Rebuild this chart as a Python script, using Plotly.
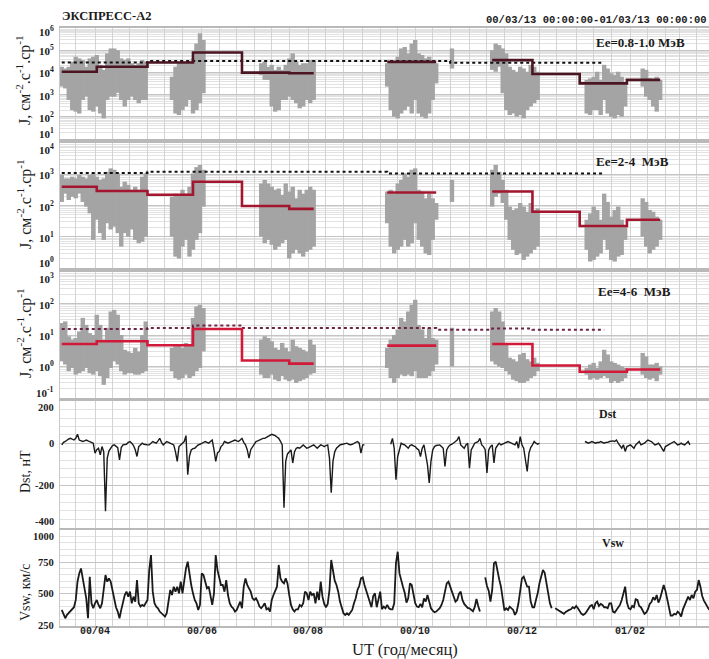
import pandas as pd
import plotly.graph_objects as go
from plotly.subplots import make_subplots

# Time base: day-of-year counted from 2000-01-01 (= day 1); 2001 days continue past 366.
EPOCH = pd.Timestamp("2000-01-01")

# ---------------- electron flux, 2-day bins: lower / upper envelope ----------------
flux_doy = [73, 75, 77, 79, 81, 83, 85, 87, 89, 91, 93, 95, 97, 99, 101, 103, 105, 107, 109, 111, 113, 115, 117, 119, 121,
            136, 138, 140, 142, 144, 146, 148, 150, 152, 154,
            187, 189, 191, 193, 195, 197, 199, 201, 203, 205, 207, 209, 211, 213, 215, 217,
            259, 261, 263, 265, 267, 269, 271, 273, 275, 277, 279, 281, 283, 285, 287,
            296,
            319, 321, 323, 325, 327, 329, 331, 333, 335, 337, 339, 341, 343, 345,
            373, 375, 377, 379, 381, 383, 385, 387, 389, 391, 393, 395,
            405, 407, 409, 411, 413, 415]

# Ee = 0.8-1.0 MeV
e1_hi = [1.8e4, 1.5e4, 1.8e4, 3.0e4, 5.1e4, 4.3e4, 3.6e4, 1.8e4, 4.3e4, 5.1e4, 6.1e4, 2.2e4, 1.3e4, 7.2e4, 1.2e5, 1.2e5, 1.0e5, 4.3e4, 3.6e4, 4.3e4, 2.6e4, 2.2e4, 2.6e4, 3.6e4, 3.0e4,
         6.4e3, 1.8e4, 2.6e4, 3.0e4, 2.6e4, 3.0e4, 4.3e4, 2.0e5, 5.8e5, 2.9e5,
         2.6e4, 3.0e4, 1.8e4, 2.2e4, 1.3e4, 1.8e4, 1.3e4, 2.2e4, 4.3e4, 7.2e4, 3.0e4, 2.2e4, 2.6e4, 2.6e4, 3.6e4, 3.6e4,
         2.6e4, 3.0e4, 3.0e4, 5.1e4, 1.2e5, 1.4e5, 7.2e4, 2.0e5, 2.9e5, 7.2e4, 6.1e4, 4.3e4, 5.1e4, 3.0e4, 2.6e4,
         1.2e5,
         1.0e5, 2.0e5, 1.7e5, 1.2e5, 7.2e4, 1.8e4, 1.3e4, 1.07e4, 1.8e4, 1.5e4, 1.07e4, 2.2e4, 1.8e4, 1.07e4,
         4.6e3, 5.4e3, 6.4e3, 1.07e4, 4.6e3, 2.2e4, 1.5e4, 9.1e3, 7.6e3, 1.07e4, 6.4e3, 3.2e3,
         1.5e4, 1.3e4, 5.4e3, 4.6e3, 6.4e3, 4.6e3]
e1_lo = [2.3e3, 1.9e3, 5.7e2, 2.0e2, 1.7e2, 1.4e2, 5.7e2, 8.1e2, 2.0e2, 1.7e2, 2.9e2, 1.4e2, 8.5e1, 5.7e2, 8.1e2, 8.0e2, 1.2e3, 5.7e2, 2.9e2, 5.7e2, 8.1e2, 5.7e2, 4.1e2, 5.7e2, 5.7e2,
         5.7e2, 1.4e2, 1.2e2, 2.0e2, 2.9e2, 5.7e2, 1.4e2, 2.0e2, 4.1e2, 1.15e3,
         7.6e3, 4.6e3, 4.6e3, 2.9e2, 1.7e2, 2.0e2, 5.7e2, 5.7e2, 8.1e2, 5.7e2, 4.1e2, 2.4e2, 2.9e2, 5.7e2, 4.1e2, 5.7e2,
         2.3e3, 2.0e2, 1.0e2, 8.5e1, 1.4e2, 2.0e2, 2.9e2, 1.4e2, 5.7e2, 1.4e2, 1.0e2, 8.5e1, 1.4e2, 5.7e2, 3.2e3,
         1.5e4,
         1.3e4, 1.07e4, 1.8e4, 1.15e3, 2.0e2, 1.2e2, 1.4e2, 1.0e2, 1.2e2, 8.5e1, 2.0e2, 2.9e2, 4.1e2, 5.7e2,
         1.4e2, 1.2e2, 2.0e2, 2.0e2, 1.2e2, 5.7e2, 1.4e2, 1.0e2, 8.5e1, 1.2e2, 1.0e2, 2.9e2,
         2.3e3, 8.1e2, 5.7e2, 2.9e2, 1.7e2, 5.7e2]

# Ee = 2-4 MeV
e2_hi = [9.5e2, 7.4e2, 7.4e2, 8.4e2, 7.4e2, 9.5e2, 8.4e2, 7.4e2, 9.5e2, 1.07e3, 8.4e2, 6.6e2, 7.4e2, 1.2e3, 1.55e3, 1.4e3, 1.07e3, 4.0e2, 5.8e2, 4.6e2, 3.2e2, 4.0e2, 3.2e2, 8.4e2, 1.07e3,
         1.9e2, 2.4e2, 2.2e2, 3.2e2, 2.4e2, 4.0e2, 1.07e3, 1.7e3, 2.0e3, 1.4e3,
         5.1e2, 6.6e2, 5.1e2, 4.0e2, 3.2e2, 3.5e2, 2.2e2, 5.1e2, 2.8e2, 4.0e2, 1.7e2, 3.2e2, 2.4e2, 3.2e2, 4.0e2, 3.2e2,
         2.8e2, 3.2e2, 2.4e2, 5.1e2, 6.6e2, 1.07e3, 8.4e2, 1.4e3, 1.55e3, 3.2e2, 2.8e2, 1.7e2, 2.4e2, 1.7e2, 1.2e2,
         6.6e2,
         1.4e3, 2.0e3, 1.2e3, 6.6e2, 3.2e2, 9.2e1, 7.2e1, 8.1e1, 1.2e2, 9.2e1, 6.3e1, 1.2e2, 7.2e1, 8.1e1,
         3.5e1, 5.6e1, 9.2e1, 7.2e1, 3.5e1, 2.4e2, 1.3e2, 4.4e1, 7.2e1, 9.2e1, 3.5e1, 2.1e1,
         1.7e2, 1.3e2, 7.2e1, 6.3e1, 4.4e1, 3.5e1]
e2_lo = [1.3e2, 2.4e2, 1.5e2, 1.9e2, 1.7e2, 2.4e2, 1.3e2, 9.2e1, 5.6e1, 7.9, 3.5e1, 1.3e1, 7.9, 2.7e1, 1.7e1, 2.1e1, 1.3e1, 4.8, 1.3e1, 1.0e1, 1.7e1, 7.9, 6.2, 6.9, 1.0e1,
         1.0e1, 2.3, 2.0, 4.8, 7.9, 2.3, 3.8, 7.9, 1.3e1, 9.2e1,
         1.0e1, 6.2, 7.9, 5.5, 3.8, 4.8, 6.2, 7.9, 2.0, 2.9, 3.8, 2.9, 2.3, 3.3, 3.8, 4.8,
         2.7e1, 4.8, 2.9, 3.8, 4.8, 7.9, 4.8, 6.2, 2.7e1, 7.9, 4.8, 2.9, 2.6, 7.9, 3.5e1,
         1.3e2,
         9.2e1, 1.9e2, 2.4e2, 1.2e2, 3.5e1, 7.9, 3.8, 2.6, 2.9, 1.8, 2.3, 2.9, 3.8, 4.8,
         3.8, 1.6, 1.8, 2.3, 2.9, 7.9, 3.8, 1.8, 1.6, 2.3, 2.6, 7.9,
         1.0e1, 4.8, 2.9, 3.8, 4.8, 7.9]

# Ee = 4-6 MeV
e3_hi = [2.4e1, 2.7e1, 9.1, 7.1, 8.0, 1.3e1, 3.5e1, 2.1e1, 1.15e1, 1.0e1, 4.4e1, 2.1e1, 7.1, 1.7e1, 5.6e1, 6.3e1, 4.4e1, 1.0e1, 3.4, 3.0, 2.7, 3.9, 3.0, 1.0e1, 2.7e1,
         3.9, 4.4, 4.9, 3.9, 5.6, 4.9, 3.5e1, 8.1e1, 9.2e1, 7.2e1,
         7.1, 9.1, 8.0, 6.3, 3.9, 3.4, 5.6, 3.9, 3.0, 7.1, 4.4, 3.9, 3.4, 3.0, 7.1, 4.9,
         3.9, 7.1, 1.0e1, 1.5e1, 3.5e1, 2.7e1, 5.6e1, 9.2e1, 1.32e2, 2.1e1, 1.5e1, 8.0, 1.7e1, 8.0, 7.1,
         1.7e1,
         5.6e1, 7.2e1, 5.6e1, 2.7e1, 4.9, 1.9, 1.7, 1.45, 2.4, 2.7, 1.7, 1.45, 1.9, 1.3,
         0.89, 1.15, 1.3, 0.89, 1.45, 3.4, 2.4, 1.45, 1.3, 1.15, 1.0, 0.89,
         2.7, 2.1, 1.15, 1.15, 1.3, 1.0]
e3_lo = [1.45, 1.15, 0.71, 0.89, 0.55, 0.62, 0.71, 0.89, 0.62, 0.55, 0.71, 0.49, 0.26, 0.43, 0.89, 1.45, 1.15, 0.71, 0.55, 0.62, 0.62, 0.55, 0.55, 0.62, 0.71,
         0.71, 0.43, 0.38, 0.43, 0.55, 0.43, 0.49, 0.71, 0.89, 3.0,
         0.55, 0.43, 0.43, 0.55, 0.38, 0.34, 0.49, 0.38, 0.34, 0.38, 0.30, 0.34, 0.38, 0.43, 0.55, 0.62,
         0.89, 0.43, 0.30, 0.43, 0.55, 0.49, 0.55, 0.49, 0.71, 0.43, 0.43, 0.43, 0.49, 0.71, 1.15,
         1.0,
         1.45, 1.15, 1.0, 0.89, 0.71, 0.55, 0.38, 0.34, 0.30, 0.30, 0.34, 0.43, 0.49, 0.71,
         0.55, 0.38, 0.43, 0.38, 0.43, 0.49, 0.43, 0.30, 0.34, 0.30, 0.34, 0.43,
         0.55, 0.43, 0.38, 0.43, 0.34, 0.55]

# ---------------- 27-day averages (shared interval edges) ----------------
avg_start = [73, 93, 122, 148, 176, 203, 259, 319, 342, 369, 396]
avg_end = [93, 122, 148, 176, 203, 217, 287, 342, 369, 396, 415]
e1_avg = [1.07e4, 1.8e4, 2.8e4, 7.9e4, 9.8e3, 9.1e3, 3.0e4, 3.6e4, 8.5e3, 3.2e3, 4.6e3]
e2_avg = [4.0e2, 2.9e2, 2.2e2, 5.8e2, 9.6e1, 7.8e1, 2.6e2, 2.8e2, 6.3e1, 2.2e1, 3.5e1]
e3_avg = [5.2, 6.3, 4.7, 15.5, 1.55, 1.23, 4.6, 5.2, 1.07, 0.68, 0.80]

# ---------------- reference levels (dotted), interval edges + levels ----------------
e1_ref_edges = [73, 122, 295, 383]
e1_ref = [2.8e4, 3.3e4, 2.7e4]
e2_ref_edges = [73, 122, 259, 383]
e2_ref = [1.1e3, 1.2e3, 1.07e3]
e3_ref_edges = [73, 122, 148, 176, 287, 319, 342, 383]
e3_ref = [15.5, 16.6, 19.9, 16.6, 14.7, 16.0, 14.7]

# ---------------- daily Dst (nT) from 2000-03-13 ----------------
dst_start = "2000-03-13"
dst = [-7, 5, 9, 16, 21, 24, 20, 16, 24, 43,
       16, 12, 9, 12, 16, 12, 9, 5, 1, -46,
       -30, -23, -54, -15, -40, -321, -70, -35, -23, -10,
       -7, -15, -20, -78, -20, -7, -4, -4, 5, 9,
       1, -10, -30, -62, -15, -7, 1, -4, -7, -7,
       -7, 1, 9, 5, 1, 12, 24, 5, -7, 1,
       9, 5, 1, -4, -7, -40, -85, -15, -7, 1,
       9, 37, -148, -60, -31, -25, -23, -15, -7, -4,
       1, 5, 9, 5, 1, 9, 16, -30, -85, -45,
       -38, -15, -7, 9, 5, 1, 5, 9, 12, 16,
       12, 9, 16, 24, 5, -7, -30, -70, -30, -15,
       1, 9, 12, 16, 20, 24, 24, 28, 32, 37,
       43, 40, 37, 30, 24, 10, -7, -305, -85, -50,
       -38, -31, -93, -40, -23, -20, -23, -15, -7, -15,
       -23, -20, -15, -10, -7, -15, -23, -15, -7, -10,
       -15, -10, -7, -70, -234, -85, -40, -23, -15, -7,
       -5, -4, -1, 1, -4, -7, -4, 1, 5, 9,
       1, -46, -7, -7, None, None, None, None, None, None,
       None, None, None, None, None, None, None, None, -4, 24,
       -23, -172, -62, -23, 1, -4, -7, -15, -23, -10,
       -7, -12, -15, -25, -31, -62, -23, -7, -62, -101,
       -187, -85, -31, -15, -10, -7, -7, -15, -23, -109,
       -31, -15, -7, -4, 1, 9, 16, 32, -7, -15,
       -23, -7, 1, -117, -31, -15, 1, 5, 9, 24,
       -7, -15, -30, -140, -31, -15, -7, -93, -23, -10,
       1, -7, -4, 1, 5, 9, 5, 1, -4, -7,
       9, -23, 32, -7, -23, -70, -133, -46, -20, -7,
       9, 1, -4, 1, None, None, None, None, None, None,
       None, None, None, None, None, None, None, None, None, None,
       None, None, None, None, None, None, None, None, None, 9,
       5, 1, 5, 9, 5, 1, 4, 4, 9, 5,
       1, 5, 5, 9, 12, 12, 9, 16, 1, -10,
       -23, -7, -38, -15, -10, -7, -15, -23, -7, 1,
       9, -7, -4, 1, 9, 16, 12, 9, 1, -7,
       -4, 1, -10, -23, -38, -15, -10, -7, 1, 5,
       9, 1, -7, -4, 1, -4, -7, 1, 9, -7]

# ---------------- daily solar-wind speed (km/s) from 2000-03-13 ----------------
vsw_start = "2000-03-13"
vsw = [375, 336, 310, 336, 349, 362, 375, 396, 453, 596,
       661, 700, 622, 531, 466, 310, 635, 427, 388, 427,
       453, 414, 388, 427, 518, 648, 596, 622, 596, 531,
       440, 396, 362, 310, 375, 440, 492, 518, 479, 518,
       427, 479, 440, 609, 427, 401, 414, 406, 427, 453,
       687, 805, 518, 427, 401, 388, 362, 349, 336, 323,
       349, 453, 531, 492, 557, 518, 557, 505, 596, 505,
       622, 700, 753, 648, 570, 505, 453, 427, 375, 414,
       661, 648, 596, 544, 557, 466, 414, 505, 805, 687,
       635, 570, 570, 518, 609, 492, 427, 401, 388, 362,
       375, 414, 440, 388, 557, 622, 570, 544, 518, 466,
       453, 466, 440, 401, 388, 406, 427, 380, 388, 362,
       453, 492, 531, 557, 727, 622, 596, 583, 622, 583,
       492, 414, 380, 362, 380, 380, 414, 401, 427, 518,
       505, 453, 518, 492, 505, 427, 518, 453, 596, 479,
       422, 396, 422, 531, 766, 687, 604, 570, 518, 440,
       388, 349, 336, 349, 336, 355, 375, 427, 466, 531,
       562, 622, 630, 570, 526, 484, 432, 396, 484, 505,
       396, 453, 518, 380, 401, 388, 414, 388, 380, 380,
       427, 740, 831, 661, 596, 557, 510, 432, 466, 583,
       570, 484, 427, 401, 396, 422, 396, 466, 440, 492,
       427, 388, 370, 357, 362, 375, 388, 414, 453, 518,
       583, 596, 557, 526, 474, 440, 453, 500, 518, 453,
       422, 406, 391, 388, 375, 365, 396, 461, 406, 362,
       None, None, 630, 562, 526, 440, 531, 740, 753, 674,
       614, 557, 440, 370, 388, 375, 401, 388, 375, 336,
       362, 427, 526, 622, 635, 596, 557, 557, 440, 396,
       396, 453, 505, 583, 648, 687, 666, 596, 510, 427,
       388, None, 388, 380, 370, 359, 354, 344, 359, 370,
       375, 380, 396, 388, 406, 388, 370, 344, 336, 344,
       362, 388, 406, 414, 380, 427, 440, 406, 422, 414,
       396, 396, 388, 427, 427, 362, 354, 375, 396, 414,
       453, 500, 557, 432, 388, 380, 406, 396, 458, 453,
       406, 396, 375, 344, 354, 380, 422, 437, 474, 453,
       492, 432, 466, 518, 570, 526, 466, 388, 331, 331,
       344, 339, 362, 349, 323, 380, 414, 440, 479, 453,
       492, 466, 518, 531, 609, 557, 484, 448, 422, 396,
       375]

# month labels on the time axis
month_labels = {(2000, 4): "00/04", (2000, 6): "00/06", (2000, 8): "00/08",
                (2000, 10): "00/10", (2000, 12): "00/12", (2001, 2): "01/02"}

# ---------------- figure geometry ----------------
W, H = 709, 659
LEFT = 60
X_FIRST_DOY, X_LAST_DOY = 72.0, 442.9
PANELS_PX = [(28, 139), (143, 268), (272, 398), (401, 528), (530, 626)]

SERIF = "Liberation Serif, Times New Roman, serif"
MONO = "Liberation Mono, Courier New, monospace"
INK = "#1c1c1c"
GRID = "#d3d3d3"


def day(d):
    return EPOCH + pd.Timedelta(days=d - 1)


def spans(days, lo, hi):
    xs, ys = [], []
    for d, a, b in zip(days, lo, hi):
        xs += [day(d), day(d), None]
        ys += [a, b, None]
    return xs, ys


def stairs(start, end, vals):
    xs, ys = [], []
    for i, (s, e, v) in enumerate(zip(start, end, vals)):
        xs.append(day(s))
        ys.append(v)
        if i + 1 == len(start) or start[i + 1] != e:
            xs += [day(e), None]
            ys += [v, None]
    return xs, ys


def px_x(x):
    return (x - LEFT) / (W - LEFT)


def px_y(y):
    return 1 - y / H


def log_minor(lo, hi):
    return [m * 10.0 ** e for e in range(lo, hi) for m in range(2, 10)]


fig = make_subplots(rows=5, cols=1, shared_xaxes=True, vertical_spacing=0)

flux_panels = [
    (e1_lo, e1_hi, e1_ref_edges, e1_ref, "#111111", e1_avg, "#4b1622"),
    (e2_lo, e2_hi, e2_ref_edges, e2_ref, "#111111", e2_avg, "#a3162f"),
    (e3_lo, e3_hi, e3_ref_edges, e3_ref, "#6e2244", e3_avg, "#d11a3a"),
]
for row, (lo, hi, r_edges, r_vals, r_col, avg, a_col) in enumerate(flux_panels, start=1):
    xs, ys = spans(flux_doy, lo, hi)
    fig.add_trace(go.Scatter(x=xs, y=ys, mode="lines", line=dict(color="#a4a4a4", width=4.4),
                             hoverinfo="skip", showlegend=False), row=row, col=1)
    xs, ys = stairs(r_edges[:-1], r_edges[1:], r_vals)
    fig.add_trace(go.Scatter(x=xs, y=ys, mode="lines", line=dict(color=r_col, width=2, dash="dot", shape="hv"),
                             hoverinfo="skip", showlegend=False), row=row, col=1)
    xs, ys = stairs(avg_start, avg_end, avg)
    fig.add_trace(go.Scatter(x=xs, y=ys, mode="lines", line=dict(color=a_col, width=2.6, shape="hv"),
                             hoverinfo="skip", showlegend=False), row=row, col=1)

dst_t = pd.date_range(dst_start, periods=len(dst), freq="D")
fig.add_trace(go.Scatter(x=dst_t, y=dst, mode="lines", line=dict(color="#1a1a1a", width=1.4),
                         hoverinfo="skip", showlegend=False), row=4, col=1)
vsw_t = pd.date_range(vsw_start, periods=len(vsw), freq="D")
fig.add_trace(go.Scatter(x=vsw_t, y=vsw, mode="lines", line=dict(color="#1a1a1a", width=1.8),
                         hoverinfo="skip", showlegend=False), row=5, col=1)

# vertical grid on the 1st, 11th and 21st of each month
grid_t = []
for m in pd.date_range("2000-03-01", "2001-03-01", freq="MS"):
    for dd in (1, 11, 21):
        t = m + pd.Timedelta(days=dd - 1)
        if day(X_FIRST_DOY) < t < day(X_LAST_DOY):
            grid_t.append(t)

for row in range(1, 6):
    fig.update_xaxes(row=row, col=1, type="date", range=[day(X_FIRST_DOY), day(X_LAST_DOY)],
                     tickmode="array", tickvals=grid_t, ticks="", showticklabels=False,
                     showgrid=True, gridcolor=GRID, gridwidth=1,
                     showline=True, mirror=True, linecolor="#b9b9b9", linewidth=2)

axis_common = dict(showticklabels=False, ticks="", showgrid=True, gridcolor="#c4c4c4", gridwidth=1.4,
                   showline=True, linecolor="#c8c8c8", linewidth=1, zeroline=False)

log_specs = [(1, 6), (0, 4), (-1, 3)]
for row, (lo, hi) in enumerate(log_specs, start=1):
    fig.update_yaxes(row=row, col=1, type="log", range=[lo - 0.003, hi + 0.003],
                     tickmode="array", tickvals=[10.0 ** k for k in range(lo, hi + 1)],
                     minor=dict(tickvals=log_minor(lo, hi), showgrid=True, gridcolor="#e2e2e2",
                                gridwidth=1, ticks=""), **axis_common)

fig.update_yaxes(row=4, col=1, range=[-401, 201], tickmode="array", tickvals=[-400, -200, 0, 200],
                 minor=dict(dtick=40, showgrid=True, gridcolor="#e2e2e2", gridwidth=1, ticks=""),
                 **axis_common)
fig.update_yaxes(row=5, col=1, range=[249, 1001], tickmode="array", tickvals=[250, 500, 750, 1000],
                 minor=dict(dtick=50, showgrid=True, gridcolor="#e2e2e2", gridwidth=1, ticks=""),
                 **axis_common)

domains = {}
for i, (top, bottom) in enumerate(PANELS_PX, start=1):
    key = "yaxis" if i == 1 else f"yaxis{i}"
    domains[key] = dict(domain=[1 - bottom / H, 1 - top / H])
fig.update_layout(**domains)

tick_font = dict(family=SERIF, size=11, color=INK, weight="bold")


# value labels of the y axes, placed on each axis scale; end labels nudged inward
def ytick(row, pos, text, shift, size=11):
    fig.add_annotation(text=text, x=px_x(56), xref="paper", y=pos,
                       yref="y" if row == 1 else f"y{row}", xanchor="right", yanchor="middle",
                       yshift=shift, showarrow=False, font=dict(tick_font, size=size))


for row, (lo, hi) in enumerate(log_specs, start=1):
    for k in range(lo, hi + 1):
        if k == hi:
            shift = -3 if row == 1 else -6
        elif k == lo:
            shift = 6
        else:
            shift = 0
        ytick(row, k, f"10<sup>{k}</sup>", shift)   # log axis: position in decades
for v in [-400, -200, 0, 200]:
    ytick(4, v, str(v), -6 if v == 200 else (6 if v == -400 else 0), size=10.5)
for v in [250, 500, 750, 1000]:
    ytick(5, v, str(v), -6 if v == 1000 else 0, size=10.5)

# month labels under the bottom panel, on the shared time axis
for (yy, mm), txt in month_labels.items():
    fig.add_annotation(text=txt, x=pd.Timestamp(yy, mm, 1), xref="x5", y=px_y(631), yref="paper",
                       xanchor="center", yanchor="middle", showarrow=False,
                       font=dict(family=MONO, size=10, color=INK, weight="bold"))


def label(text, x, y, size, family=SERIF, xanchor="left", angle=0, bold=True):
    fig.add_annotation(text=text, x=px_x(x), y=px_y(y), xref="paper", yref="paper",
                       xanchor=xanchor, yanchor="middle", showarrow=False, textangle=angle,
                       font=dict(family=family, size=size, color=INK,
                                 weight="bold" if bold else "normal"))


label("ЭКСПРЕСС-А2", 60, 16, 12.5)
label("00/03/13 00:00:00-01/03/13 00:00:00", 709, 20, 10.5, family=MONO, xanchor="right")
label("Ee=0.8-1.0 МэВ", 594, 42, 13)
label("Ee=2-4\u00a0 МэВ", 594, 162, 13)
label("Ee=4-6\u00a0 МэВ", 596, 292, 13)
label("Dst", 597, 414, 12)
label("Vsw", 600, 543, 12)

flux_title = "J, см<sup>-2</sup>.с<sup>-1</sup>.ср<sup>-1</sup>"
label(flux_title, 24, 80, 16, xanchor="center", angle=-90, bold=False)
label(flux_title, 24, 204, 16, xanchor="center", angle=-90, bold=False)
label(flux_title, 24, 333, 16, xanchor="center", angle=-90, bold=False)
label("Dst, нТ", 25, 472, 14, xanchor="center", angle=-90, bold=False)
label("Vsw, км/с", 25, 592, 14, xanchor="center", angle=-90, bold=False)
label("UT (год/месяц)", 405, 649, 16.5, xanchor="center", bold=False)

fig.update_layout(width=W, height=H, margin=dict(l=LEFT, r=0, t=0, b=0),
                  paper_bgcolor="white", plot_bgcolor="white", showlegend=False)

fig.write_html("out.html")
